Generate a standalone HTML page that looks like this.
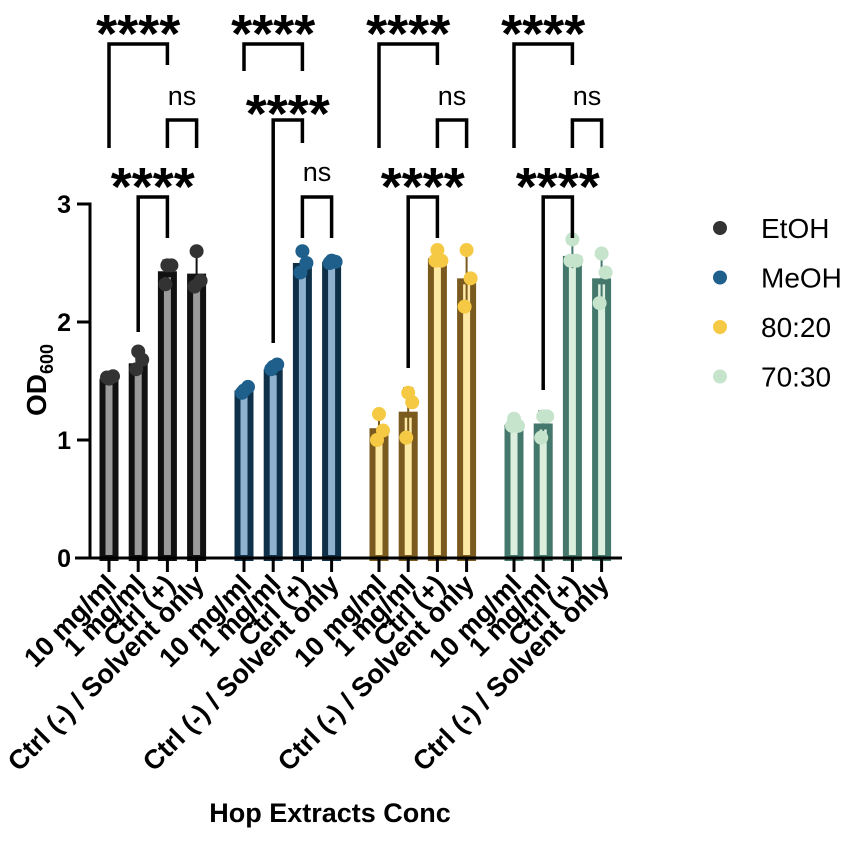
<!DOCTYPE html>
<html><head><meta charset="utf-8"><style>
html,body{margin:0;padding:0;background:#fff;}
svg text{font-family:"Liberation Sans",Arial,sans-serif;}
</style></head><body>
<svg id="chart" width="851" height="837" viewBox="0 0 851 837" xmlns="http://www.w3.org/2000/svg"></svg>
<script>
const groups = ["EtOH","MeOH","80:20","70:30"];
const categories = ["10 mg/ml","1 mg/ml","Ctrl (+)","Ctrl (-) / Solvent only"];
const meansEtOH = [1.52,1.65,2.43,2.41];
const meansMeOH = [1.42,1.60,2.50,2.51];
const means8020 = [1.10,1.24,2.54,2.37];
const means7030 = [1.13,1.14,2.56,2.37];
const ptsEtOH = [[1.52,1.54,1.53],[1.75,1.68,1.60],[2.48,2.48,2.32],[2.60,2.35,2.30]];
const ptsMeOH = [[1.42,1.45,1.40],[1.62,1.64,1.60],[2.60,2.50,2.42],[2.52,2.51,2.50]];
const pts8020 = [[1.22,1.08,1.00],[1.40,1.32,1.02],[2.61,2.52,2.52],[2.61,2.37,2.13]];
const pts7030 = [[1.18,1.12,1.12],[1.20,1.20,1.02],[2.70,2.52,2.52],[2.58,2.42,2.16]];
const yTicks = [0,1,2,3];

const means=[meansEtOH,meansMeOH,means8020,means7030];
const pts=[ptsEtOH,ptsMeOH,pts8020,pts7030];
const fills=["#9a9a9a","#8fb3cf","#fde9a6","#dcefdf"];
const strokes=["#111111","#0e3149","#7a5a1e","#44786c"];
const dots=["#333333","#1f5f8b","#f6c945","#c6e3cc"];
const NS="http://www.w3.org/2000/svg";
const svg=document.getElementById('chart');
function y(v){return 558-v*118;}
function x(g,i){return 109+g*135+i*29.2;}
function mk(tag,attrs,parent){const e=document.createElementNS(NS,tag);for(const k in attrs)e.setAttribute(k,attrs[k]);(parent||svg).appendChild(e);return e;}

// y axis
let ax=mk('g',{});


mk('line',{x1:90,y1:y(3)-1.5,x2:90,y2:559.5,stroke:'#000','stroke-width':3},ax);
yTicks.forEach(t=>{
  mk('line',{x1:77,y1:y(t),x2:90,y2:y(t),stroke:'#000','stroke-width':3},ax);
  const tx=mk('text',{x:71,y:y(t)+9,'text-anchor':'end','font-size':25,'font-weight':'bold'},ax);
  
  
  tx.textContent=t;
});
const yt=mk('text',{transform:'translate(46,380) rotate(-90)','text-anchor':'middle','font-size':28,'font-weight':'bold'});


yt.innerHTML='OD<tspan font-size="18" dy="7">600</tspan>';

// bars
groups.forEach((gname,g)=>{
  const gg=mk('g',{});
  
  
  means[g].forEach((m,i)=>{
    const cx=x(g,i);
    const r=mk('rect',{x:cx-6.5,y:y(m)+3,width:13,height:y(0)-y(m)-3,fill:fills[g],stroke:strokes[g],'stroke-width':6},gg);
    
    
    const p=pts[g][i];
    const mean=p.reduce((a,b)=>a+b,0)/p.length;
    const sd=Math.sqrt(p.reduce((a,b)=>a+(b-mean)*(b-mean),0)/(p.length-1));
    const eb=mk('line',{x1:cx,y1:y(m-sd),x2:cx,y2:y(m+sd),stroke:strokes[g],'stroke-width':2},gg);
    
    
    mk('line',{x1:cx-5,y1:y(m+sd),x2:cx+5,y2:y(m+sd),stroke:strokes[g],'stroke-width':2},gg);
    p.forEach((v,k)=>{
      const c=mk('circle',{cx:cx+(k===1?4:(k===2?-2:0)),cy:y(v),r:7,fill:dots[g]},gg);
      
      
    });
  });
});

// x axis
const xa=mk('g',{});


mk('line',{x1:75,y1:558,x2:622,y2:558,stroke:'#000','stroke-width':3},xa);
groups.forEach((gname,g)=>{
  categories.forEach((c,i)=>{
    const cx=x(g,i);
    mk('line',{x1:cx,y1:558,x2:cx,y2:572,stroke:'#000','stroke-width':3},xa);
    const t=mk('text',{transform:`translate(${cx+9},${586}) rotate(-45)`,'text-anchor':'end','font-size':27,'font-weight':'bold'},xa);
    
    
    t.textContent=c;
  });
});
const xt=mk('text',{x:330,y:822,'text-anchor':'middle','font-size':27,'font-weight':'bold'});


xt.textContent='Hop Extracts Conc';

// significance brackets
function bracket(x1,x2,yb,l1,l2,label,lc){
  const b=mk('g',{});
  
  
  mk('polyline',{points:`${x1},${l1} ${x1},${yb} ${x2},${yb} ${x2},${l2}`,fill:'none',stroke:'#000','stroke-width':3.5},b);
  const isStar=label!=='ns';
  const t=mk('text',{x:(x1+x2)/2,y:isStar?lc+32:lc+10,'text-anchor':'middle','font-size':isStar?54:27,'font-weight':isStar?'bold':'normal'},b);
  t.textContent=label;
}
groups.forEach((gname,g)=>{
  const a=x(g,0),b=x(g,1),c=x(g,2),d=x(g,3);
  const lowLeg=[332,343,368,390][g];
  if(g===1){
    bracket(a,c,44,71,71,'****',20);
    bracket(b,c,120,lowLeg,143,'****',100);
    bracket(c,d,197,238,238,'ns',171);
  }else{
    bracket(a,c,44,148,65,'****',20);
    bracket(c,d,120,148,148,'ns',95);
    bracket(b,c,197,lowLeg,238,'****',173);
  }
});

// legend
const lg=mk('g',{});


groups.forEach((gname,g)=>{
  const e=mk('g',{},lg);
  
  
  const ly=228+g*49.5;
  mk('circle',{cx:720,cy:ly,r:7,fill:dots[g]},e);
  const t=mk('text',{x:761,y:ly+10,'font-size':28},e);
  t.textContent=gname;
});
</script>
</body></html>
